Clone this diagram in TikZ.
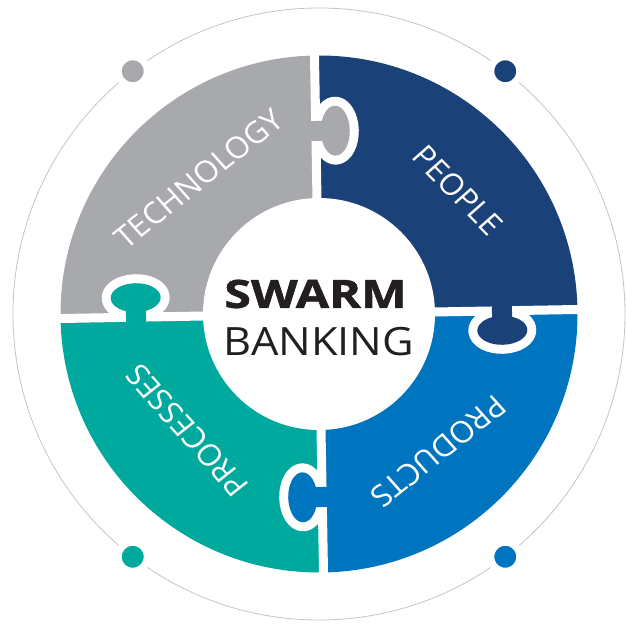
\documentclass[tikz,border=0pt]{standalone}
\usepackage{fontspec}
\setsansfont{Open Sans}
\definecolor{techgray}{HTML}{A7A9AC}
\definecolor{peoplenavy}{HTML}{1A4178}
\definecolor{prodblue}{HTML}{0075BF}
\definecolor{procteal}{HTML}{00A99D}
\definecolor{ringline}{HTML}{C4C4C4}
\definecolor{inkblack}{HTML}{231F20}

\begin{document}
\begin{tikzpicture}[x=1pt, y=1pt, font=\sffamily,
    seg/.style={text=white, inner sep=0pt, xscale=1.06, font=\sffamily\fontsize{30}{30}\selectfont},
    dot/.style={circle, fill=#1, draw=white, line width=7pt, minimum size=29pt, inner sep=0pt},
    gap/.style={draw=white, line width=9pt},
    tabedge/.style={draw=white, line width=18pt, line join=round}]
  \useasboundingbox (-319,-312) rectangle (307,314);
  % thin outer orbit with its four dots
  \draw[ringline, line width=0.8pt] (0,0) circle[radius=306];
  \node[dot=techgray] (dtl) at (127.5:306) {};
  \node[dot=peoplenavy] (dtr) at (52.5:306) {};
  \node[dot=prodblue] (dbr) at (-52.5:306) {};
  \node[dot=procteal] (dbl) at (-127.5:306) {};
  % the four puzzle pieces
  \begin{scope}[rotate=1]
    \fill[peoplenavy] (0,0) -- (0:258.5) arc[start angle=0, end angle=90, radius=258.5] -- cycle;
    \fill[techgray] (0,0) -- (90:258.5) arc[start angle=90, end angle=180, radius=258.5] -- cycle;
    \fill[procteal] (0,0) -- (180:258.5) arc[start angle=180, end angle=270, radius=258.5] -- cycle;
    \fill[prodblue] (0,0) -- (270:258.5) arc[start angle=270, end angle=360, radius=258.5] -- cycle;
    \draw[gap] (-265,0) -- (265,0);
    \draw[gap] (0,-265) -- (0,265);
    \foreach \a/\c in {90/techgray, 180/procteal, 270/prodblue, 0/peoplenavy} {
      \begin{scope}[rotate=\a]
        \draw[tabedge] (173,0) -- (173,-6.2)
          arc[start angle=113.6, end angle=426.4, x radius=25, y radius=14.5] -- (193,0);
        \fill[\c] (173,6) -- (173,-6.2)
          arc[start angle=113.6, end angle=426.4, x radius=25, y radius=14.5] -- (193,6) -- cycle;
      \end{scope}
    }
  \end{scope}
  \node[circle, fill=white, minimum size=232pt, inner sep=0pt] (hub) at (0,0) {};
  \node[inkblack, xscale=1.24, font=\sffamily\bfseries\fontsize{39}{39}\selectfont\addfontfeature{FakeBold=1.2}] (sw) at (-3.5,20) {SWARM};
  \node[inkblack, xscale=1.11, font=\sffamily\fontsize{39}{39}\selectfont] (bk) at (0,-27.5) {BANKING};
  % segment labels
  \node[seg, rotate=40] (tech) at (131.6:181) {TECHNOLOGY};
  \node[seg, rotate=-47] (ppl) at (41.7:186) {PEOPLE};
  \node[seg, rotate=-140] (prod) at (-49:182) {PRODUCTS};
  \node[seg, rotate=130] (proc) at (221.5:176) {PROCESSES};
\end{tikzpicture}
\end{document}
